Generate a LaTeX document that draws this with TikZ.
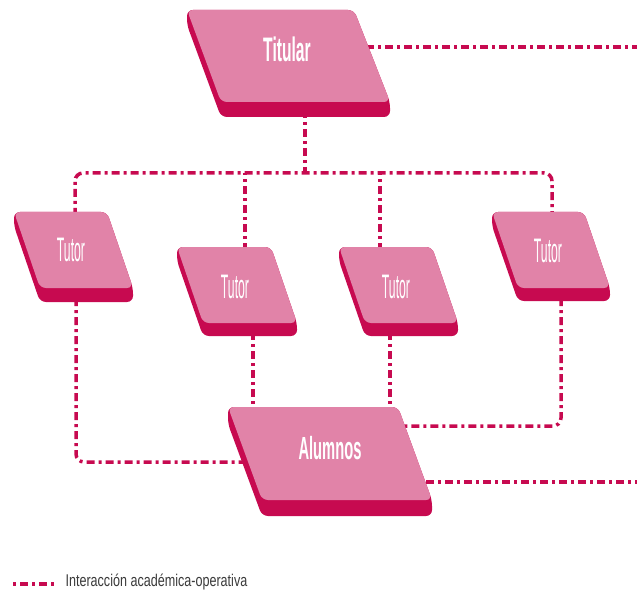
\documentclass[tikz,border=0pt]{standalone}
\usepackage{fontspec}
\newfontfamily\slabfont[FakeStretch=0.46]{Liberation Sans}
\newfontfamily\tutorfont[FakeStretch=0.36]{Liberation Sans}
\newfontfamily\legendfont[FakeStretch=0.74]{Liberation Sans}
\definecolor{slabpink}{HTML}{E183A8}
\definecolor{slabred}{HTML}{C70A50}
\definecolor{legendgray}{HTML}{3A3A3A}

\begin{document}
\begin{tikzpicture}[x=1pt, y=-1pt,
		slabtop/.style={fill=slabpink, rounded corners=6pt},
		slabside/.style={fill=slabred, rounded corners=6pt},
		link/.style={draw=slabred, line width=3.5pt, dash pattern=on 8pt off 4pt on 3pt off 4pt, rounded corners=8pt},
		boldlabel/.style={text=white, font=\slabfont\bfseries\fontsize{34}{34}\selectfont},
		tutorlabel/.style={text=white, font=\tutorfont\fontsize{34}{34}\selectfont}]
			\useasboundingbox (0,0) rectangle (637,596);
			% ends of the connectors
			\coordinate (titE) at (366,47);
			\coordinate (rimTop) at (637,47);
			\coordinate (titS) at (305,110);
			\coordinate (busM) at (305,173);
			\coordinate (busL) at (75,173);
			\coordinate (busR) at (552,173);
			\coordinate (tutAn) at (75,216);
			\coordinate (tutBn) at (245,251);
			\coordinate (tutCn) at (380,251);
			\coordinate (tutDn) at (552,216);
			\coordinate (busB) at (245,173);
			\coordinate (busC) at (380,173);
			\coordinate (tutAs) at (76,298);
			\coordinate (tutBs) at (253,332);
			\coordinate (tutCs) at (390,332);
			\coordinate (tutDs) at (561,298);
			\coordinate (lowL) at (76,462);
			\coordinate (lowR) at (561,426);
			\coordinate (aluW) at (246,462);
			\coordinate (aluE) at (404,426);
			\coordinate (aluBn) at (253,411);
			\coordinate (aluCn) at (390,411);
			\coordinate (aluSE) at (426,482);
			\coordinate (rimLow) at (637,482);
			\draw [link] (titE) -- (rimTop);
			\draw [link] (titS) -- (busM);
			\draw [link] (tutAn) -- (busL) -- (busR) -- (tutDn);
			\draw [link] (tutBn) -- (busB);
			\draw [link] (tutCn) -- (busC);
			\draw [link] (tutAs) -- (lowL) -- (aluW);
			\draw [link] (tutBs) -- (aluBn);
			\draw [link] (tutCs) -- (aluCn);
			\draw [link] (tutDs) -- (lowR) -- (aluE);
			\draw [link] (aluSE) -- (rimLow);
			% Titular
			\fill [slabside] (187,10) -- (187,25) -- (221,117) -- (390,117) -- (390,102) -- (354,10) -- cycle;
			\fill [slabtop] (187,10) -- (354,10) -- (390,102) -- (221,102) -- cycle;
			% Tutores
			\fill [slabside] (14,212) -- (14,226) -- (40,302) -- (133,302) -- (133,288) -- (107,212) -- cycle;
			\fill [slabtop] (14,212) -- (107,212) -- (133,288) -- (40,288) -- cycle;
			\fill [slabside] (177,247) -- (177,261) -- (203,336) -- (297,336) -- (297,323) -- (271,247) -- cycle;
			\fill [slabtop] (177,247) -- (271,247) -- (297,323) -- (203,323) -- cycle;
			\fill [slabside] (339,247) -- (339,261) -- (365,336) -- (458,336) -- (458,323) -- (432,247) -- cycle;
			\fill [slabtop] (339,247) -- (432,247) -- (458,323) -- (365,323) -- cycle;
			\fill [slabside] (492,212) -- (492,226) -- (518,301) -- (610,301) -- (610,288) -- (584,212) -- cycle;
			\fill [slabtop] (492,212) -- (584,212) -- (610,288) -- (518,288) -- cycle;
			% Alumnos
			\fill [slabside] (228,407) -- (228,424) -- (262,516) -- (432,516) -- (432,500) -- (398,407) -- cycle;
			\fill [slabtop] (228,407) -- (398,407) -- (432,500) -- (262,500) -- cycle;
			\node [boldlabel] (titular) at (287,49) {Titular};
			\node [tutorlabel] (tutorA) at (71,250) {Tutor};
			\node [tutorlabel] (tutorB) at (235,287) {Tutor};
			\node [tutorlabel] (tutorC) at (396,287) {Tutor};
			\node [tutorlabel] (tutorD) at (548,251) {Tutor};
			\node [boldlabel, font=\slabfont\bfseries\fontsize{32}{32}\selectfont] (alumnos) at (330,448) {Alumnos};
			% legend
			\coordinate (keyA) at (13,584);
			\coordinate (keyB) at (55,584);
			\draw [link, dash phase=12pt] (keyA) -- (keyB);
			\node [right, text=legendgray, font=\legendfont\fontsize{17}{17}\selectfont] (legend) at (62,582) {Interacción académica-operativa};
	\end{tikzpicture}
\end{document}
